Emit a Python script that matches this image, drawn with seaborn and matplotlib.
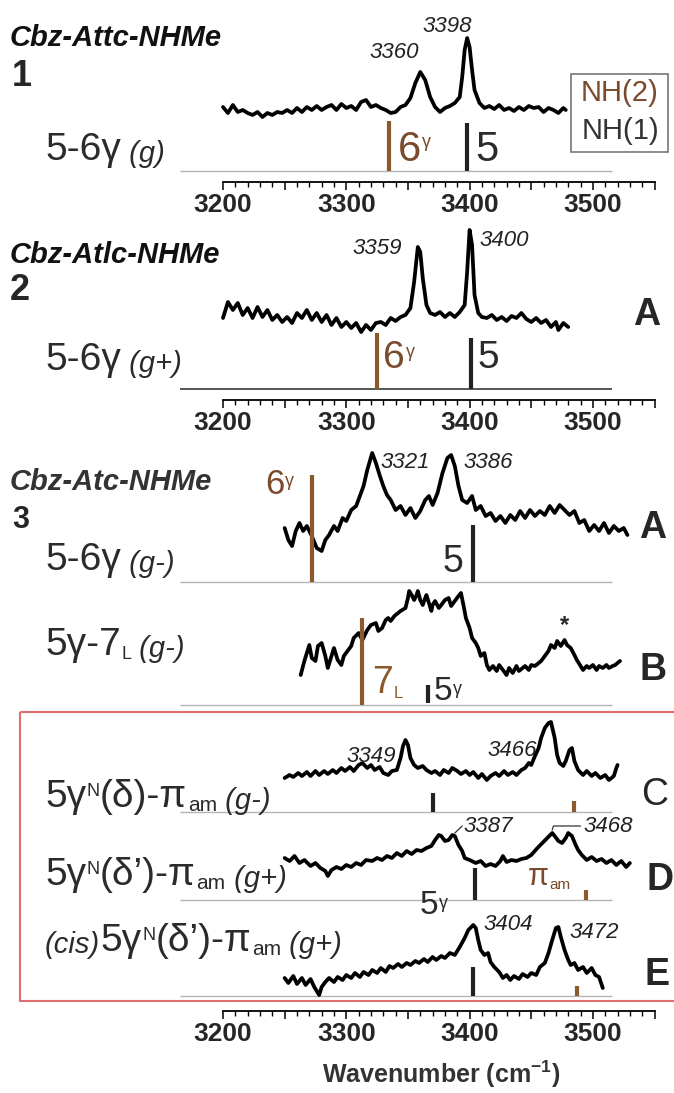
import numpy as np
import matplotlib
matplotlib.use("Agg")
import matplotlib.pyplot as plt
from matplotlib import font_manager
from matplotlib.patches import Rectangle
import seaborn as sns

# ---------------------------------------------------------------- data
wn_1 = [3200, 3204, 3208, 3212, 3216, 3220, 3224, 3228, 3232, 3236,
        3240, 3244, 3248, 3252, 3256, 3260, 3264, 3268, 3272, 3276,
        3280, 3284, 3288, 3292, 3296, 3300, 3304, 3308, 3312, 3316,
        3320, 3324, 3328, 3332, 3336, 3340, 3344, 3348, 3352, 3356,
        3360, 3364, 3368, 3372, 3376, 3380, 3384, 3388, 3392, 3394,
        3396, 3398, 3400, 3402, 3404, 3408, 3412, 3416, 3420, 3424,
        3428, 3432, 3436, 3440, 3444, 3448, 3452, 3456, 3460, 3464,
        3468, 3472, 3476, 3478]
ab_1 = [3, -3, 5, -2, 0, -3, -5, -2, -7, -3,
        -5, -2, -3, 0, -3, 2, -2, 3, 0, 4,
        0, 3, 5, 0, 6, 2, 4, 0, 8, 10,
        3, 5, 2, 0, -3, -2, 3, 5, 12, 27,
        38, 30, 13, 3, -2, 2, 4, 7, 13, 33,
        60, 72, 63, 40, 20, 7, 2, 4, 1, 5,
        0, 2, -1, 3, 0, 4, 2, 3, -2, 2,
        0, -3, 2, 0]

wn_2 = [3200, 3204, 3208, 3212, 3216, 3220, 3224, 3228, 3232, 3236,
        3240, 3244, 3248, 3252, 3256, 3260, 3264, 3268, 3272, 3276,
        3280, 3284, 3288, 3292, 3296, 3300, 3304, 3308, 3312, 3316,
        3320, 3324, 3328, 3332, 3336, 3340, 3344, 3348, 3352, 3355,
        3358, 3360, 3362, 3365, 3368, 3372, 3376, 3380, 3384, 3388,
        3392, 3396, 3398, 3400, 3402, 3404, 3407, 3410, 3414, 3418,
        3422, 3426, 3430, 3434, 3438, 3442, 3446, 3450, 3454, 3458,
        3462, 3466, 3470, 3472, 3476, 3480]
ab_2 = [2, 18, 10, 17, 5, 12, 2, 13, 3, 10,
        0, 5, -2, 3, -3, 7, 2, 10, 0, 7,
        -2, 5, -5, 2, -7, -2, -8, -3, -12, -5,
        -10, -3, -2, -5, 2, -1, 3, 5, 12, 38,
        73, 68, 42, 15, 7, 5, 8, 3, 7, 3,
        8, 15, 48, 90, 75, 25, 7, 3, 2, 5,
        0, 3, -1, 4, 2, 7, 1, -2, 2, -3,
        0, -7, -2, -10, -3, -7]

wn_3a = [3250, 3253, 3256, 3259, 3262, 3265, 3268, 3272, 3276, 3280,
         3283, 3286, 3290, 3293, 3297, 3300, 3304, 3308, 3311, 3314,
         3317, 3321, 3324, 3327, 3330, 3333, 3336, 3340, 3344, 3348,
         3352, 3356, 3360, 3364, 3367, 3370, 3374, 3378, 3382, 3385,
         3388, 3391, 3394, 3398, 3402, 3405, 3409, 3413, 3417, 3421,
         3425, 3429, 3433, 3437, 3441, 3445, 3449, 3453, 3457, 3461,
         3465, 3469, 3473, 3477, 3481, 3485, 3489, 3493, 3497, 3501,
         3505, 3509, 3513, 3517, 3521, 3525, 3528]
ab_3a = [5, -7, -13, 2, 10, 2, 7, -3, -15, -18,
         -7, -2, 7, 2, 15, 12, 23, 27, 37, 47,
         63, 80, 70, 58, 47, 38, 33, 23, 27, 18,
         25, 15, 22, 33, 37, 28, 40, 60, 75, 78,
         67, 47, 33, 30, 37, 23, 27, 17, 20, 12,
         17, 10, 18, 13, 22, 15, 23, 17, 22, 18,
         27, 20, 28, 23, 18, 22, 10, 13, 2, 8,
         2, 10, 0, 7, 2, 5, -2]

wn_3b = [3263, 3266, 3270, 3272, 3275, 3277, 3280, 3283, 3285, 3288,
         3290, 3293, 3296, 3298, 3301, 3304, 3306, 3310, 3313, 3317,
         3320, 3324, 3326, 3329, 3332, 3334, 3336, 3339, 3342, 3344,
         3348, 3350, 3351, 3353, 3355, 3357, 3358, 3360, 3362, 3364,
         3365, 3367, 3369, 3370, 3372, 3375, 3377, 3380, 3383, 3385,
         3388, 3391, 3393, 3395, 3397, 3400, 3402, 3405, 3407, 3409,
         3412, 3414, 3416, 3419, 3422, 3424, 3427, 3430, 3432, 3435,
         3438, 3440, 3443, 3445, 3448, 3450, 3453, 3456, 3458, 3461,
         3464, 3466, 3469, 3471, 3474, 3477, 3479, 3482, 3485, 3487,
         3490, 3492, 3495, 3497, 3500, 3503, 3505, 3508, 3511, 3513,
         3516, 3518, 3522]
ab_3b = [-7, 7, 23, 10, 7, 22, 25, 12, 0, 12,
         20, 8, 3, 12, 17, 22, 30, 35, 28, 38,
         43, 45, 37, 40, 48, 50, 47, 52, 55, 57,
         60, 70, 77, 73, 68, 73, 77, 68, 63, 70,
         73, 65, 57, 63, 67, 60, 63, 68, 70, 62,
         67, 72, 75, 63, 50, 40, 30, 25, 20, 12,
         15, 3, -2, 2, -3, 3, -2, -7, 0, -5,
         2, -3, 0, 2, -2, 3, 2, 5, 7, 12,
         17, 23, 20, 27, 22, 28, 23, 20, 13, 8,
         2, -2, 2, 0, 3, -2, 2, 0, 3, 0,
         2, 3, 7]

wn_c = [3250, 3254, 3257, 3261, 3264, 3268, 3271, 3275, 3278, 3282,
        3285, 3289, 3292, 3296, 3299, 3303, 3306, 3310, 3313, 3317,
        3320, 3323, 3327, 3330, 3334, 3337, 3341, 3344, 3346, 3348,
        3350, 3352, 3355, 3358, 3362, 3365, 3369, 3372, 3376, 3379,
        3383, 3386, 3390, 3393, 3397, 3400, 3403, 3407, 3410, 3414,
        3417, 3421, 3424, 3428, 3431, 3435, 3438, 3442, 3445, 3448,
        3450, 3453, 3456, 3458, 3461, 3464, 3466, 3469, 3471, 3473,
        3476, 3478, 3481, 3483, 3485, 3488, 3492, 3495, 3499, 3502,
        3506, 3510, 3513, 3517, 3519, 3520]
ab_c = [0, 3, 1, 5, 2, 6, 2, 7, 3, 7,
        4, 8, 5, 10, 7, 11, 7, 13, 15, 10,
        13, 8, 11, 5, 3, 7, 8, 20, 32, 38,
        33, 20, 13, 10, 12, 8, 5, 7, 3, 8,
        5, 10, 7, 4, 7, 3, 6, 0, 4, -2,
        2, 5, 2, 7, 3, 6, 3, 8, 10, 15,
        13, 22, 30, 40, 50, 55, 56, 40, 23, 15,
        12, 17, 28, 30, 17, 8, 3, 7, 2, 5,
        0, 3, -2, 2, 10, 13]

wn_d = [3250, 3254, 3258, 3262, 3266, 3271, 3275, 3279, 3283, 3285,
        3288, 3292, 3296, 3300, 3304, 3308, 3312, 3316, 3321, 3325,
        3329, 3333, 3337, 3341, 3345, 3349, 3353, 3357, 3361, 3365,
        3369, 3372, 3375, 3377, 3380, 3383, 3386, 3388, 3391, 3394,
        3396, 3400, 3405, 3409, 3413, 3417, 3421, 3425, 3427, 3430,
        3434, 3438, 3442, 3446, 3450, 3455, 3459, 3463, 3467, 3469,
        3472, 3475, 3478, 3480, 3483, 3486, 3488, 3491, 3495, 3499,
        3503, 3507, 3511, 3515, 3519, 3523, 3527, 3530]
ab_d = [5, 2, 7, 0, 3, -3, 0, -5, -8, -13,
        -7, -4, -6, -2, -4, 0, -2, 3, 2, 5,
        3, 7, 5, 10, 7, 12, 9, 13, 12, 15,
        17, 23, 28, 27, 22, 23, 28, 27, 18, 12,
        5, 3, 0, 2, -3, -1, -3, 2, 7, 1,
        3, 2, 4, 5, 8, 15, 20, 25, 30, 27,
        22, 20, 25, 30, 27, 18, 13, 8, 3, 6,
        2, 4, 0, 3, -2, 2, -4, 0]

wn_e = [3250, 3253, 3257, 3260, 3264, 3267, 3271, 3274, 3278, 3280,
        3283, 3286, 3290, 3293, 3297, 3300, 3304, 3307, 3311, 3314,
        3318, 3321, 3325, 3328, 3332, 3335, 3338, 3342, 3345, 3349,
        3352, 3356, 3359, 3363, 3366, 3370, 3373, 3377, 3380, 3384,
        3388, 3392, 3396, 3399, 3403, 3405, 3407, 3409, 3412, 3415,
        3417, 3420, 3424, 3427, 3430, 3433, 3436, 3440, 3443, 3447,
        3450, 3454, 3457, 3461, 3464, 3467, 3470, 3472, 3474, 3477,
        3480, 3482, 3485, 3488, 3492, 3495, 3499, 3502, 3505, 3508]
ab_e = [2, -3, 4, -4, 2, -5, 1, -7, -15, -7,
        -2, 2, -2, 3, 0, 5, 2, 7, 3, 8,
        5, 10, 7, 12, 8, 14, 12, 16, 13, 17,
        15, 19, 17, 21, 18, 23, 20, 24, 22, 27,
        25, 33, 42, 50, 55, 52, 40, 30, 25, 27,
        18, 13, 8, 2, 5, 0, 4, 1, 6, 3,
        7, 5, 13, 17, 27, 40, 52, 53, 43, 30,
        20, 15, 17, 10, 13, 7, 12, 5, 3, -8]

# labelled band maxima
peaks_1 = [3360, 3398]
peaks_2 = [3359, 3400]
peaks_3a = [3321, 3386]
peaks_c = [3349, 3466]
peaks_d = [3387, 3468]
peaks_e = [3404, 3472]

# computed stick positions: NH(2) (brown) and NH(1) (black) per panel
panels = ["1", "2", "3a", "3b", "c", "d", "e"]
stick_nh2 = [3335, 3325, 3272, 3313, 3485, 3494, 3487]
stick_nh1 = [3398, 3401, 3403, 3366, 3370, 3404, 3403]

tick_major = list(range(3200, 3551, 50))
tick_minor = list(range(3200, 3551, 10))
tick_labels = [3200, 3300, 3400, 3500]

# ---------------------------------------------------------------- style
sns.set_theme(style="ticks")
names = {f.name for f in font_manager.fontManager.ttflist}
SANS = "Liberation Sans" if "Liberation Sans" in names else "DejaVu Sans"
NARROW = "Liberation Sans Narrow" if "Liberation Sans Narrow" in names else SANS
plt.rcParams["font.family"] = [SANS, "DejaVu Sans"]
plt.rcParams["mathtext.fontset"] = "custom"
plt.rcParams["mathtext.rm"] = SANS
plt.rcParams["mathtext.it"] = SANS + ":italic"
plt.rcParams["mathtext.bf"] = SANS + ":bold"

BROWN = "#8a5a2c"
BROWN_T = "#7a4a2c"
DARK = "#2b2b2b"
GRAYLINE = "#b5b5b5"

W, H = 674, 1093
X0_PX, PX_PER_WN = 223.0, 1.233


def wn_at(px):
    return 3200 + (px - X0_PX) / PX_PER_WN


fig = plt.figure(figsize=(W / 100, H / 100), dpi=100)
ax = fig.add_axes([0, 0, 1, 1])

# ---------------------------------------------------------------- traces
traces = {"1": (wn_1, ab_1), "2": (wn_2, ab_2), "3a": (wn_3a, ab_3a),
          "3b": (wn_3b, ab_3b), "c": (wn_c, ab_c), "d": (wn_d, ab_d),
          "e": (wn_e, ab_e)}
trace_base = {"1": 110, "2": 320, "3a": 533, "3b": 668, "c": 778, "d": 863, "e": 980}
for key, (w, a) in traces.items():
    assert len(w) == len(a), key
    sns.lineplot(x=w, y=trace_base[key] - np.asarray(a, float), ax=ax,
                 color="black", linewidth=2.7, sort=False, estimator=None)

# ---------------------------------------------------------------- sticks + baselines
stick_y2 = {"1": (121, 171), "2": (333, 389), "3a": (475, 582), "3b": (618, 705),
            "c": (801, 812), "d": (890, 900), "e": (986, 996)}
stick_y1 = {"1": (123, 171), "2": (338, 389), "3a": (525, 582), "3b": (685, 703),
            "c": (793, 812), "d": (868, 900), "e": (967, 996)}
base_y = {"1": 171, "2": 389, "3a": 582, "3b": 705, "c": 812, "d": 900, "e": 996}
for i, p in enumerate(panels):
    lc = "#555555" if p == "2" else GRAYLINE
    lw = 1.4 if p == "2" else 1.0
    ax.hlines(base_y[p], wn_at(180), wn_at(612), color=lc, lw=lw, zorder=1)
    ax.vlines(stick_nh2[i], *stick_y2[p], color=BROWN, lw=3.0, zorder=3)
    ax.vlines(stick_nh1[i], *stick_y1[p], color="#222222", lw=3.0, zorder=3)


# ---------------------------------------------------------------- rich text helper
def rich(x_px, y_px, parts, ha="left"):
    s, kw = parts[0][0], parts[0][1]
    t = ax.text(wn_at(x_px), y_px, s, ha=ha, va="center", **kw)
    base = prev = t
    for s, kw, mode in parts[1:]:
        if mode == "sup":
            a = ax.annotate(s, xy=(1, 1), xycoords=(prev, base), xytext=(0.5, -3),
                            textcoords="offset points", ha="left", va="top", **kw)
        elif mode == "sub":
            a = ax.annotate(s, xy=(1, 0), xycoords=(prev, base), xytext=(0.5, 0),
                            textcoords="offset points", ha="left", va="bottom", **kw)
        else:
            a = ax.annotate(s, xy=(1, 0), xycoords=(prev, base), ha="left",
                            va="bottom", **kw)
            base = a
        prev = a
    return t


BIG = dict(size=28, color=DARK)
ITAL = dict(size=21, style="italic", color=DARK)
SUPK = dict(size=13, color=DARK)
SUBK = dict(size=15, color=DARK)

# titles and compound numbers
TIT = dict(size=21, weight="bold", style="italic", color="#111111")
ax.text(wn_at(10), 38, "Cbz-Attc-NHMe", ha="left", va="center", **TIT)
ax.text(wn_at(12), 76, "1", ha="left", va="center", size=26, weight="bold")
ax.text(wn_at(10), 255, "Cbz-Atlc-NHMe", ha="left", va="center", **TIT)
ax.text(wn_at(10), 291, "2", ha="left", va="center", size=26, weight="bold")
ax.text(wn_at(10), 482, "Cbz-Atc-NHMe", ha="left", va="center",
        **dict(TIT, color="#333333"))
ax.text(wn_at(12), 520, "3", ha="left", va="center", size=22, weight="bold")

# conformer labels
rich(45, 150, [("5-6γ", BIG, "base"), (" (g)", ITAL, "base")])
rich(45, 360, [("5-6γ", BIG, "base"), (" (g+)", ITAL, "base")])
rich(45, 560, [("5-6γ", BIG, "base"), (" (g-)", ITAL, "base")])
rich(45, 645, [("5γ-7", BIG, "base"), ("L", SUPK, "sub"), (" (g-)", ITAL, "base")])
rich(45, 797, [("5γ", BIG, "base"), ("N", SUPK, "sup"), ("(δ)-π", BIG, "base"),
               ("am", SUBK, "sub"), (" (g-)", ITAL, "base")])
rich(45, 875, [("5γ", BIG, "base"), ("N", SUPK, "sup"), ("(δ’)-π", BIG, "base"),
               ("am", SUBK, "sub"), (" (g+)", ITAL, "base")])
rich(45, 945, [("(cis)", ITAL, "base"), ("5γ", BIG, "base"), ("N", SUPK, "sup"),
               ("(δ’)-π", BIG, "base"), ("am", SUBK, "sub"),
               (" (g+)", ITAL, "base")])

# stick labels
rich(398, 150, [("6", dict(size=30, color=BROWN_T), "base"),
                ("γ", dict(size=13, color=BROWN_T), "sup")])
rich(475, 150, [("5", dict(size=30, color=DARK), "base")])
rich(383, 358, [("6", dict(size=28, color=BROWN_T), "base"),
                ("γ", dict(size=13, color=BROWN_T), "sup")])
rich(477, 358, [("5", dict(size=28, color=DARK), "base")])
rich(265, 485, [("6", dict(size=25, color=BROWN_T), "base"),
                ("γ", dict(size=13, color=BROWN_T), "sup")])
rich(463, 562, [("5", dict(size=27, color=DARK), "base")], ha="right")
rich(372, 683, [("7", dict(size=27, color=BROWN), "base"),
                ("L", dict(size=12, color=BROWN), "sub")])
rich(434, 692, [("5", dict(size=24, color=DARK), "base"),
                ("γ", dict(size=13, color=DARK), "sup")])
rich(420, 906, [("5", dict(size=24, color=DARK), "base"),
                ("γ", dict(size=13, color=DARK), "sup")])
rich(528, 877, [("π", dict(size=22, color=BROWN_T), "base"),
                ("am", dict(size=11, color=BROWN_T), "sub")])
ax.text(wn_at(565), 626, "*", ha="center", va="center", size=17, weight="bold")

# peak wavenumber labels
PK = dict(size=16, style="italic", color="#222222", family=[NARROW, SANS])
peak_lab = [(peaks_1[0], -1, 52, "right"), (peaks_1[1], 4, 27, "right"),
            (peaks_2[0], -14, 248, "right"), (peaks_2[1], 8, 240, "left"),
            (peaks_3a[0], 7, 462, "left"), (peaks_3a[1], 9, 462, "left"),
            (peaks_c[0], -9, 757, "right"), (peaks_c[1], -11, 750, "right"),
            (peaks_d[0], 8, 827, "left"), (peaks_d[1], 24, 827, "left"),
            (peaks_e[0], 7, 925, "left"), (peaks_e[1], 9, 933, "left")]
for pk, dx, y, ha in peak_lab:
    ax.text(pk + dx, y, str(pk), ha=ha, va="center", **PK)
# small leader marks in panel D
ax.plot([peaks_d[0] + 1, peaks_d[0] + 7], [833, 826], color="#333333", lw=0.9)
ax.plot([peaks_d[1] - 1, peaks_d[1], peaks_d[1] + 22], [830, 826, 826],
        color="#333333", lw=0.9)

# panel letters
ax.text(wn_at(647), 315, "A", ha="center", va="center", size=27, weight="bold")
ax.text(wn_at(653), 528, "A", ha="center", va="center", size=27, weight="bold")
ax.text(wn_at(653), 670, "B", ha="center", va="center", size=27, weight="bold")
ax.text(wn_at(655), 795, "C", ha="center", va="center", size=27)
ax.text(wn_at(660), 880, "D", ha="center", va="center", size=27, weight="bold")
ax.text(wn_at(657), 975, "E", ha="center", va="center", size=27, weight="bold")

# NH legend box
ax.add_patch(Rectangle((wn_at(571), 74), wn_at(668) - wn_at(571), 78,
                       fill=False, ec="#777777", lw=1.2))
ax.text(wn_at(620), 93, "NH(2)", ha="center", va="center", size=21, color=BROWN_T)
ax.text(wn_at(620), 131, "NH(1)", ha="center", va="center", size=21, color="#333333")

# red frame around C-E
ax.add_patch(Rectangle((wn_at(20), 712), wn_at(720) - wn_at(20), 1001 - 712,
                       fill=False, ec="#e07070", lw=1.5))

# x-axis label
ax.text(wn_at(441), 1074, r"Wavenumber (cm$^{\mathbf{-1}}$)", ha="center",
        va="center", size=18, weight="bold", color="#333333")

ax.set_xlim(wn_at(0), wn_at(W))
ax.set_ylim(H, 0)
ax.axis("off")


# ---------------------------------------------------------------- wavenumber scales
def scale_axis(y_px):
    sax = fig.add_axes([0, 1 - y_px / H, 1, 2 / H])
    sax.set_xlim(wn_at(0), wn_at(W))
    sax.patch.set_alpha(0)
    for s in ["top", "left", "right"]:
        sax.spines[s].set_visible(False)
    sax.spines["bottom"].set_bounds(tick_major[0], tick_major[-1])
    sax.spines["bottom"].set_linewidth(1.3)
    sax.spines["bottom"].set_color("black")
    sax.set_yticks([])
    sax.set_xticks(tick_major,
                   labels=[str(t) if t in tick_labels else "" for t in tick_major],
                   fontsize=19, fontweight="bold")
    sax.set_xticks(tick_minor, minor=True)
    sax.tick_params(axis="x", which="major", bottom=True, direction="out",
                    length=6, width=1.1, pad=2, color="black")
    sax.tick_params(axis="x", which="minor", bottom=True, direction="out",
                    length=3.5, width=1.0, color="black")
    return sax


for y in (182, 400, 1011):
    scale_axis(y)

fig.savefig("out.png", dpi=100)
